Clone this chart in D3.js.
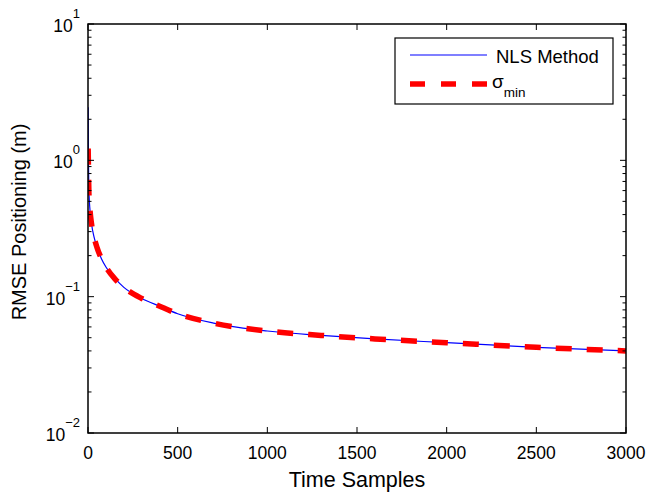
<!DOCTYPE html>
<html>
<head>
<meta charset="utf-8">
<script src="https://cdn.jsdelivr.net/npm/d3@7"></script>
<style>
  body { margin: 0; background: #fff; }
  text { font-family: "Liberation Sans", Arial, Helvetica, sans-serif; fill: #000; }
</style>
</head>
<body>
<div id="chart"></div>
<script>
// data
const nlsTimes = [1, 2, 3, 5, 10, 20, 35, 50, 75, 100, 150, 200, 300, 400, 500, 700, 1000, 1300, 1600, 2000, 2500, 3000]
const nlsValues = [2.45, 1.3, 0.9, 0.62, 0.45, 0.34, 0.27, 0.23, 0.19, 0.165, 0.136, 0.117, 0.097, 0.085, 0.075, 0.064, 0.056, 0.052, 0.049, 0.046, 0.0425, 0.040]
const sigmaTimes = [1, 3, 5, 10, 20, 35, 50, 75, 100, 150, 200, 300, 400, 500, 700, 1000, 1300, 1600, 2000, 2500, 3000]
const sigmaValues = [1.22, 0.8, 0.58, 0.45, 0.34, 0.27, 0.23, 0.19, 0.165, 0.135, 0.117, 0.097, 0.085, 0.075, 0.064, 0.056, 0.052, 0.049, 0.046, 0.0425, 0.040]
const xTicks = [0, 500, 1000, 1500, 2000, 2500, 3000]
const yDecades = [-2, -1, 0, 1]

const width = 646
const height = 493
const margin = {top: 24, right: 20, bottom: 60, left: 88}

const svg = d3.select('#chart').append('svg')
  .attr('width', width)
  .attr('height', height)

const x = d3.scaleLinear().domain([0, 3000]).range([margin.left, width - margin.right])
const y = d3.scaleLog().domain([0.01, 10]).range([height - margin.bottom, margin.top])

const x0 = x.range()[0], x1 = x.range()[1]
const y0 = y.range()[0], y1 = y.range()[1]

// lines
const line = d3.line().x(d => x(d[0])).y(d => y(d[1])).curve(d3.curveMonotoneX)
svg.append('clipPath').attr('id', 'clip').append('rect')
  .attr('x', x0).attr('y', y1).attr('width', x1 - x0).attr('height', y0 - y1)
const plot = svg.append('g').attr('clip-path', 'url(#clip)')

plot.append('path')
  .datum(nlsTimes.map((t, i) => [t, nlsValues[i]]))
  .attr('d', line)
  .attr('fill', 'none').attr('stroke', '#0000ff').attr('stroke-width', 1.2)

plot.append('path')
  .datum(sigmaTimes.map((t, i) => [t, sigmaValues[i]]))
  .attr('d', line)
  .attr('fill', 'none').attr('stroke', '#ff0000').attr('stroke-width', 5.5)
  .attr('stroke-dasharray', '16,15')

// axes box
svg.append('rect')
  .attr('x', x0).attr('y', y1).attr('width', x1 - x0).attr('height', y0 - y1)
  .attr('fill', 'none').attr('stroke', '#000').attr('stroke-width', 1.5)

const ticks = svg.append('g').attr('stroke', '#000').attr('stroke-width', 1)
const tl = 6
xTicks.forEach(t => {
  ticks.append('line').attr('x1', x(t)).attr('x2', x(t)).attr('y1', y0).attr('y2', y0 - tl)
  ticks.append('line').attr('x1', x(t)).attr('x2', x(t)).attr('y1', y1).attr('y2', y1 + tl)
})
yDecades.forEach(e => {
  const base = Math.pow(10, e)
  ticks.append('line').attr('x1', x0).attr('x2', x0 + tl).attr('y1', y(base)).attr('y2', y(base))
  ticks.append('line').attr('x1', x1).attr('x2', x1 - tl).attr('y1', y(base)).attr('y2', y(base))
  if (e < 1) {
    for (let m = 2; m <= 9; m++) {
      const v = base * m
      ticks.append('line').attr('x1', x0).attr('x2', x0 + 3.5).attr('y1', y(v)).attr('y2', y(v))
      ticks.append('line').attr('x1', x1).attr('x2', x1 - 3.5).attr('y1', y(v)).attr('y2', y(v))
    }
  }
})

// tick labels
svg.append('g').selectAll('text').data(xTicks).enter().append('text')
  .attr('x', d => x(d)).attr('y', y0 + 26)
  .attr('text-anchor', 'middle').attr('font-size', 17.5)
  .text(d => d)

const yl = svg.append('g').selectAll('text').data(yDecades).enter().append('text')
  .attr('x', x0 - 8).attr('y', d => y(Math.pow(10, d)) + 8)
  .attr('text-anchor', 'end').attr('font-size', 17.5)
yl.append('tspan').text('10')
yl.append('tspan').attr('dy', -14).attr('font-size', 13).text(d => d < 0 ? '\u2212' + (-d) : d)

// axis titles
svg.append('text')
  .attr('x', (x0 + x1) / 2).attr('y', 487)
  .attr('text-anchor', 'middle').attr('font-size', 21.5)
  .text('Time Samples')

svg.append('text')
  .attr('transform', 'translate(26, 222) rotate(-90)')
  .attr('text-anchor', 'middle').attr('font-size', 20)
  .text('RMSE Positioning (m)')

// legend
const legend = svg.append('g').attr('transform', 'translate(395, 38)')
legend.append('rect').attr('width', 218).attr('height', 66)
  .attr('fill', '#fff').attr('stroke', '#000').attr('stroke-width', 1.2)
legend.append('line').attr('x1', 15).attr('x2', 92).attr('y1', 17).attr('y2', 17)
  .attr('stroke', '#0000ff').attr('stroke-width', 1.2)
legend.append('text').attr('x', 101).attr('y', 25).attr('font-size', 18.5).text('NLS Method')
legend.append('line').attr('x1', 15).attr('x2', 92).attr('y1', 46).attr('y2', 46)
  .attr('stroke', '#ff0000').attr('stroke-width', 5.5).attr('stroke-dasharray', '15,16')
const sig = legend.append('text').attr('x', 97).attr('y', 50).attr('font-size', 19)
sig.append('tspan').text('\u03c3')
sig.append('tspan').attr('dy', 9).attr('font-size', 13.5).text('min')
</script>
</body>
</html>
